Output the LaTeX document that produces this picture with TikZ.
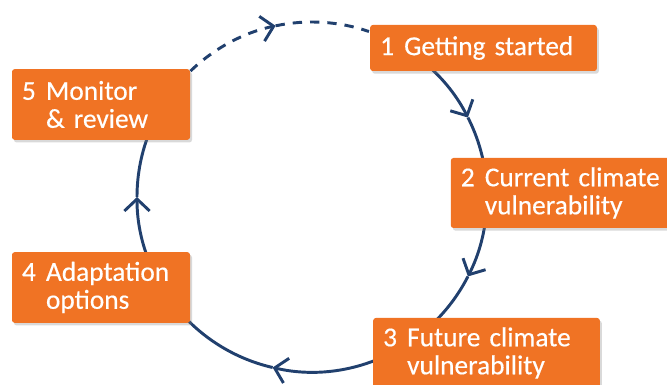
\documentclass[tikz,border=0pt]{standalone}
\usepackage{fontspec}
\setmainfont{Carlito}
\newfontfamily\boxfont{Carlito}[FakeBold=0.4, WordSpace=0.85]
\usetikzlibrary{arrows.meta,shadows}
\definecolor{boxorange}{HTML}{F07324}
\definecolor{navy}{HTML}{21406E}
\newcommand\stepnum[1]{\makebox[18pt][l]{#1}}
\begin{document}
\begin{tikzpicture}[x=0.75pt,y=0.75pt,
  stepbox/.style={fill=boxorange, rounded corners=2pt, text=white, inner xsep=7.5pt, inner ysep=0pt,
    align=left, font=\boxfont\fontsize{20.5}{21}\selectfont,
    drop shadow={shadow xshift=1.5pt, shadow yshift=-2pt, opacity=0.3}},
  conn/.style={navy, line width=2.2pt},
  tipped/.style={-{Straight Barb[length=9pt,width=19pt]}},
  dashedconn/.style={conn, dash pattern=on 7pt off 6pt},
]
\useasboundingbox (0,0) rectangle (667,385);
\coordinate (c) at (312,188);
% connectors
\draw[conn,tipped] ([shift={(70:175)}]c) arc[start angle=70,end angle=27,radius=175];
\draw[conn] ([shift={(27:175)}]c) arc[start angle=27,end angle=5,radius=175];
\draw[conn,tipped] ([shift={(5:175)}]c) arc[start angle=5,end angle=-27,radius=175];
\draw[conn] ([shift={(-27:175)}]c) arc[start angle=-27,end angle=-45,radius=175];
\draw[conn,tipped] ([shift={(-45:175)}]c) arc[start angle=-45,end angle=-103,radius=175];
\draw[conn] ([shift={(-103:175)}]c) arc[start angle=-103,end angle=-135,radius=175];
\draw[conn,tipped] ([shift={(-135:175)}]c) arc[start angle=-135,end angle=-180,radius=175];
\draw[conn] ([shift={(-180:175)}]c) arc[start angle=-180,end angle=-225,radius=175];
\draw[dashedconn,tipped] ([shift={(134:175)}]c) arc[start angle=134,end angle=102,radius=175];
\draw[dashedconn] ([shift={(102:175)}]c) arc[start angle=102,end angle=71,radius=175];
% boxes
\node[stepbox, minimum width=170pt, minimum height=34.5pt, text width=155pt] (b1) at (483.5,337)
  {\stepnum{1}Getting started};
\node[stepbox, minimum width=172pt, minimum height=52.5pt, text width=157pt] (b2) at (565.5,192)
  {\stepnum{2}Current climate\\\hspace*{18pt}vulnerability};
\node[stepbox, minimum width=170pt, minimum height=52.5pt, text width=155pt] (b3) at (486.5,32)
  {\stepnum{3}Future climate\\\hspace*{18pt}vulnerability};
\node[stepbox, minimum width=133.5pt, minimum height=53pt, text width=118.5pt] (b4) at (101,97.5)
  {\stepnum{4}Adaptation\\\hspace*{18pt}options};
\node[stepbox, minimum width=133.5pt, minimum height=53pt, text width=118.5pt] (b5) at (101,280.5)
  {\stepnum{5}Monitor\\\hspace*{18pt}\& review};
\end{tikzpicture}
\end{document}
